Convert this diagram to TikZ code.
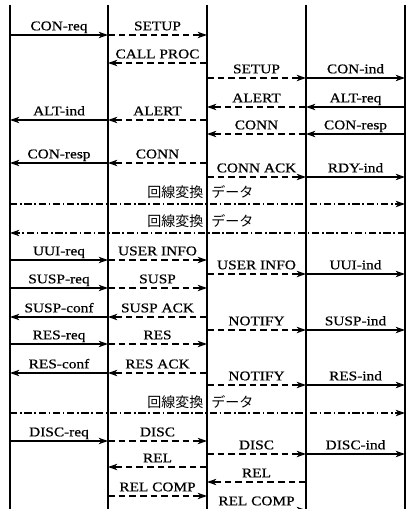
\documentclass[tikz,border=0pt]{standalone}
\usepackage{fontspec}
\setmainfont{Liberation Serif}[FakeStretch=1.15,FakeBold=0.6]
\newfontfamily\jpfont{Noto Sans CJK JP}
\usetikzlibrary{arrows.meta}
\def\xa{10}\def\xb{108}\def\xc{207}\def\xd{306}\def\xe{405}
\newcommand\msg[6]{%
  \coordinate (#1s) at (#3,#2);
  \coordinate (#1t) at (#4,#2);
  \draw[#5] (#1s) -- node[lbl] (#1) {#6} (#1t);}
\tikzset{
  life/.style={line width=1.6pt},
  sol/.style={line width=0.85pt, -{Stealth[length=7pt,width=4.8pt,inset=2pt]}},
  dsh/.style={sol, line width=1pt, dash pattern=on 5pt off 3pt},
  dd/.style={line width=0.9pt, dash pattern=on 5.5pt off 2pt on 1.2pt off 2pt},
  lbl/.style={anchor=base, yshift=3.5pt, inner sep=0pt, font=\fontsize{10}{12}\selectfont},
  jlbl/.style={anchor=base west, yshift=4.5pt, inner sep=0pt, font=\fontsize{10.5}{12}\selectfont\jpfont}
}
\begin{document}
\begin{tikzpicture}[x=0.75pt,y=-0.75pt]
\useasboundingbox (0,0) rectangle (409,509);
\clip (0,0) rectangle (409,509);
% lifelines
\foreach \n/\x in {1/\xa,2/\xb,3/\xc,4/\xd,5/\xe}{
  \coordinate (L\n-top) at (\x,5);
  \coordinate (L\n-bot) at (\x,515);
  \draw[life] (L\n-top) -- (L\n-bot);
}
% messages
\msg{m1}{35}{\xa}{\xb}{sol}{CON-req}
\msg{m2}{35}{\xb}{\xc}{dsh}{SETUP}
\msg{m3}{63}{\xc}{\xb}{dsh}{CALL PROC}
\msg{m4}{78}{\xc}{\xd}{dsh}{SETUP}
\msg{m5}{78}{\xd}{\xe}{sol}{CON-ind}
\msg{m6}{107}{\xd}{\xc}{dsh}{ALERT}
\msg{m7}{107}{\xe}{\xd}{sol}{ALT-req}
\msg{m8}{120}{\xb}{\xa}{sol}{ALT-ind}
\msg{m9}{120}{\xc}{\xb}{dsh}{ALERT}
\msg{m10}{134}{\xd}{\xc}{dsh}{CONN}
\msg{m11}{134}{\xe}{\xd}{sol}{CON-resp}
\msg{m12}{163}{\xb}{\xa}{sol}{CON-resp}
\msg{m13}{163}{\xc}{\xb}{dsh}{CONN}
\msg{m14}{177}{\xc}{\xd}{dsh}{CONN ACK}
\msg{m15}{177}{\xd}{\xe}{sol}{RDY-ind}
% circuit-switched data 1
\coordinate (d1s) at (\xa,204);
\coordinate (d1t) at (\xe,204);
\draw[dd,-{Stealth[length=7pt,width=4.8pt,inset=2pt]}] (d1s) -- (d1t);
\node[jlbl] (d1) at (147,204) {回線変換\hspace{6pt}データ};
% circuit-switched data 2
\coordinate (d2s) at (\xe,233);
\coordinate (d2t) at (\xa,233);
\draw[dd,-{Stealth[length=7pt,width=4.8pt,inset=2pt]}] (d2s) -- (d2t);
\node[jlbl] (d2) at (147,233) {回線変換\hspace{6pt}データ};
\msg{m16}{260}{\xa}{\xb}{sol}{UUI-req}
\msg{m17}{260}{\xb}{\xc}{dsh}{USER INFO}
\msg{m18}{274}{\xc}{\xd}{dsh}{USER INFO}
\msg{m19}{274}{\xd}{\xe}{sol}{UUI-ind}
\msg{m20}{288}{\xa}{\xb}{sol}{SUSP-req}
\msg{m21}{288}{\xb}{\xc}{dsh}{SUSP}
\msg{m22}{317}{\xb}{\xa}{sol}{SUSP-conf}
\msg{m23}{317}{\xc}{\xb}{dsh}{SUSP ACK}
\msg{m24}{330}{\xc}{\xd}{dsh}{NOTIFY}
\msg{m25}{330}{\xd}{\xe}{sol}{SUSP-ind}
\msg{m26}{344}{\xa}{\xb}{sol}{RES-req}
\msg{m27}{344}{\xb}{\xc}{dsh}{RES}
\msg{m28}{373}{\xb}{\xa}{sol}{RES-conf}
\msg{m29}{373}{\xc}{\xb}{dsh}{RES ACK}
\msg{m30}{385}{\xc}{\xd}{dsh}{NOTIFY}
\msg{m31}{385}{\xd}{\xe}{sol}{RES-ind}
% circuit-switched data 3
\coordinate (d3s) at (\xa,413);
\coordinate (d3t) at (\xe,413);
\draw[dd,-{Stealth[length=7pt,width=4.8pt,inset=2pt]}] (d3s) -- (d3t);
\node[jlbl] (d3) at (147,413) {回線変換\hspace{6pt}データ};
\msg{m32}{441}{\xa}{\xb}{sol}{DISC-req}
\msg{m33}{441}{\xb}{\xc}{dsh}{DISC}
\msg{m34}{454}{\xc}{\xd}{dsh}{DISC}
\msg{m35}{454}{\xd}{\xe}{sol}{DISC-ind}
\msg{m36}{467}{\xc}{\xb}{dsh}{REL}
\msg{m37}{482}{\xd}{\xc}{dsh}{REL}
\msg{m38}{496}{\xb}{\xc}{dsh}{REL COMP}
\msg{m39}{510}{\xc}{\xd}{dsh}{REL COMP}
\end{tikzpicture}
\end{document}
